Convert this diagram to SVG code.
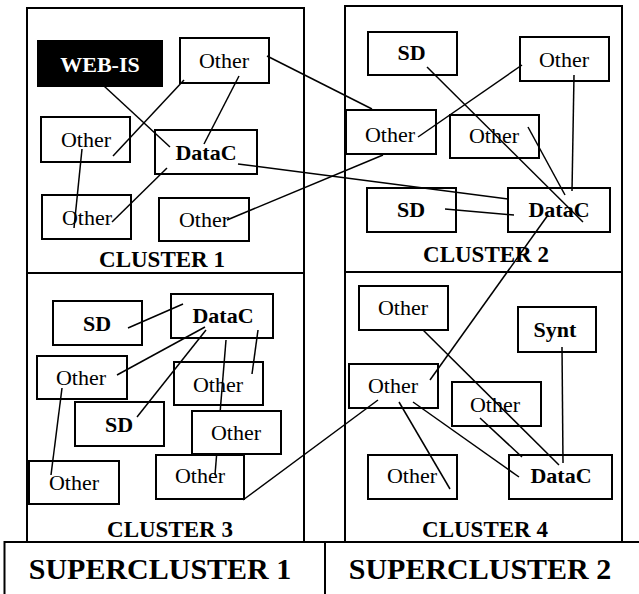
<svg xmlns="http://www.w3.org/2000/svg" width="639" height="594" viewBox="0 0 639 594">
<style>
.frame{fill:none;stroke:#000;stroke-width:2}
.node rect{fill:#fff;stroke:#000;stroke-width:2}
.node rect.dark{fill:#000}
text{font-family:"Liberation Serif","Times New Roman",serif;font-size:22px;text-anchor:middle;fill:#000}
.b{font-weight:bold}
.w{fill:#fff}
.lbl{font-weight:bold;font-size:23px}
.sup{font-weight:bold;font-size:30px}
#connectors line{stroke:#000;stroke-width:1.5}
</style>
<rect width="639" height="594" fill="#fff"/>
<g id="frames">
<rect class="frame" x="27" y="8" width="277" height="534"/>
<line class="frame" x1="27" y1="273" x2="304" y2="273"/>
<rect class="frame" x="345" y="6" width="277" height="536"/>
<line class="frame" x1="345" y1="272" x2="622" y2="272"/>
<path class="frame" d="M4.5,596 V542 H641"/>
<line class="frame" x1="325" y1="542" x2="325" y2="596"/>
</g>
<g id="labels">
<text class="lbl" x="162" y="267">CLUSTER 1</text>
<text class="lbl" x="486" y="262">CLUSTER 2</text>
<text class="lbl" x="170" y="537">CLUSTER 3</text>
<text class="lbl" x="485" y="537">CLUSTER 4</text>
<text class="sup" x="160" y="579">SUPERCLUSTER 1</text>
<text class="sup" x="480" y="579">SUPERCLUSTER 2</text>
</g>
<g id="c1_webis" class="node"><rect class="dark" x="38" y="41" width="124" height="45"/><text class="b w" x="100" y="72">WEB-IS</text></g>
<g id="c1_o1" class="node"><rect x="180" y="38" width="89" height="45"/><text x="224" y="68">Other</text></g>
<g id="c1_o2" class="node"><rect x="41" y="117" width="89" height="45"/><text x="86" y="147">Other</text></g>
<g id="c1_datac" class="node"><rect x="155" y="130" width="102" height="44"/><text class="b" x="206" y="160">DataC</text></g>
<g id="c1_o3" class="node"><rect x="42" y="195" width="89" height="44"/><text x="87" y="225">Other</text></g>
<g id="c1_o4" class="node"><rect x="159" y="198" width="90" height="43"/><text x="204" y="227">Other</text></g>
<g id="c2_sd1" class="node"><rect x="368" y="32" width="89" height="43"/><text class="b" x="411.5" y="60">SD</text></g>
<g id="c2_o1" class="node"><rect x="520" y="37" width="89" height="44"/><text x="564" y="67">Other</text></g>
<g id="c2_o2" class="node"><rect x="346" y="110" width="90" height="44"/><text x="390" y="142">Other</text></g>
<g id="c2_o3" class="node"><rect x="450" y="115" width="89" height="43"/><text x="494" y="143">Other</text></g>
<g id="c2_sd2" class="node"><rect x="367" y="188" width="89" height="44"/><text class="b" x="411" y="217">SD</text></g>
<g id="c2_datac" class="node"><rect x="508" y="188" width="102" height="44"/><text class="b" x="559" y="217">DataC</text></g>
<g id="c3_sd1" class="node"><rect x="53" y="301" width="89" height="44"/><text class="b" x="97" y="331">SD</text></g>
<g id="c3_datac" class="node"><rect x="171" y="294" width="102" height="44"/><text class="b" x="223" y="323">DataC</text></g>
<g id="c3_o1" class="node"><rect x="37" y="356" width="90" height="43"/><text x="81" y="385">Other</text></g>
<g id="c3_o2" class="node"><rect x="174" y="362" width="89" height="43"/><text x="218" y="392">Other</text></g>
<g id="c3_sd2" class="node"><rect x="75" y="402" width="89" height="44"/><text class="b" x="119" y="432">SD</text></g>
<g id="c3_o5" class="node"><rect x="156" y="455" width="88" height="44"/><text x="200" y="483">Other</text></g>
<g id="c3_o3" class="node"><rect x="192" y="411" width="89" height="43"/><text x="236" y="440">Other</text></g>
<g id="c3_o4" class="node"><rect x="29" y="461" width="90" height="43"/><text x="74" y="490">Other</text></g>
<g id="c4_o1" class="node"><rect x="359" y="286" width="89" height="44"/><text x="403" y="315">Other</text></g>
<g id="c4_synt" class="node"><rect x="518" y="307" width="78" height="45"/><text class="b" x="555" y="337">Synt</text></g>
<g id="c4_o2" class="node"><rect x="349" y="364" width="89" height="44"/><text x="393" y="393">Other</text></g>
<g id="c4_o3" class="node"><rect x="452" y="382" width="89" height="44"/><text x="495" y="412">Other</text></g>
<g id="c4_o4" class="node"><rect x="368" y="455" width="89" height="44"/><text x="412" y="483">Other</text></g>
<g id="c4_datac" class="node"><rect x="509" y="455" width="103" height="44"/><text class="b" x="561" y="483">DataC</text></g>
<g id="connectors">
<line x1="104" y1="86" x2="170" y2="147"/>
<line x1="184" y1="80" x2="113" y2="156"/>
<line x1="239" y1="76" x2="204" y2="144"/>
<line x1="267" y1="56" x2="372" y2="109"/>
<line x1="82" y1="149" x2="74" y2="228"/>
<line x1="167" y1="168" x2="112" y2="222"/>
<line x1="238" y1="164" x2="508" y2="199"/>
<line x1="227" y1="220" x2="383" y2="155"/>
<line x1="427" y1="67" x2="583" y2="222"/>
<line x1="522" y1="65" x2="418" y2="137"/>
<line x1="574" y1="75" x2="572" y2="191"/>
<line x1="528" y1="127" x2="565" y2="195"/>
<line x1="445" y1="209" x2="514" y2="215"/>
<line x1="548" y1="215" x2="430" y2="380"/>
<line x1="128" y1="328" x2="183" y2="304"/>
<line x1="205" y1="327" x2="117" y2="375"/>
<line x1="206" y1="330" x2="137" y2="417"/>
<line x1="258" y1="330" x2="252" y2="374"/>
<line x1="226" y1="340" x2="220.2" y2="411"/>
<line x1="216.6" y1="455" x2="215" y2="475"/>
<line x1="62" y1="388" x2="51" y2="475"/>
<line x1="243" y1="500" x2="378" y2="400"/>
<line x1="423" y1="330" x2="559" y2="465"/>
<line x1="562" y1="347" x2="563" y2="463"/>
<line x1="480" y1="418" x2="522" y2="457"/>
<line x1="399" y1="402" x2="450" y2="489"/>
<line x1="413" y1="402" x2="519" y2="477"/>
</g>
</svg>
